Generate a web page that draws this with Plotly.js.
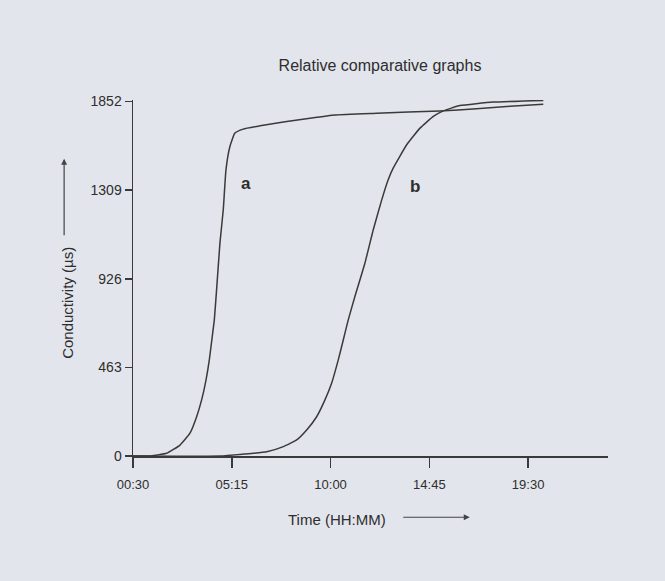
<!DOCTYPE html>
<html>
<head>
<meta charset="utf-8">
<script src="https://cdn.plot.ly/plotly-3.0.1.min.js"></script>
<style>html,body{margin:0;padding:0;background:#e3e5ec;}#chart{width:665px;height:581px;}</style>
</head>
<body>
<div id="chart"></div>
<script>
// Time in hours (00:30 = 0.5), conductivity in µs
const timeA = [0.5, 1.32, 1.64, 2.12, 2.76, 3.24, 3.56, 3.80, 4.01, 4.17, 4.31, 4.41, 4.53, 4.68, 4.84, 4.97, 5.16, 5.40, 5.80, 6.61, 7.81, 9.01, 10.21, 12.22, 15.26, 17.02, 18.63, 20.23];
const condA = [0, 0, 5, 14, 57, 119, 205, 293, 397, 502, 624, 711, 885, 1112, 1286, 1495, 1617, 1687, 1708, 1725, 1746, 1765, 1782, 1791, 1803, 1814, 1827, 1838];
const timeB = [0.5, 4.68, 5.80, 6.93, 7.73, 8.37, 8.85, 9.33, 9.73, 10.05, 10.37, 10.61, 10.85, 11.17, 11.65, 12.05, 12.46, 12.77, 13.01, 13.66, 14.30, 14.94, 15.42, 16.22, 17.82, 20.23];
const condB = [0, 0, 10, 22, 49, 84, 136, 205, 293, 380, 502, 606, 711, 833, 1007, 1181, 1338, 1443, 1504, 1626, 1713, 1774, 1803, 1831, 1849, 1858];
const xTickVals = [0.5, 5.25, 10, 14.75, 19.5];
const xTickText = ['00:30', '05:15', '10:00', '14:45', '19:30'];
const yTickVals = [0, 463, 926, 1389, 1852];
const yTickText = ['0', '463', '926', '1309', '1852'];
const curveLabels = ['a', 'b'];
const labelX = [5.93, 14.06];
const labelY = [1422, 1406];

const font = 'Liberation Sans, Arial, sans-serif';
const ink = '#3a3a3a';
const txt = '#2e2e2e';

const traces = [
  {x: timeA, y: condA, mode: 'lines', line: {color: ink, width: 1.5, shape: 'spline', smoothing: 0.4}, hoverinfo: 'skip'},
  {x: timeB, y: condB, mode: 'lines', line: {color: ink, width: 1.5, shape: 'spline', smoothing: 0.4}, hoverinfo: 'skip'}
];

const annotations = curveLabels.map((t, i) => ({
  x: labelX[i], y: labelY[i], xref: 'x', yref: 'y', text: '<b>' + t + '</b>', showarrow: false,
  xanchor: 'center', yanchor: 'middle',
  font: {family: font, size: 17, color: txt}
}));
annotations.push(
  {xref: 'paper', yref: 'paper', x: 0.429, y: -0.1795, xanchor: 'center', yanchor: 'middle',
   text: 'Time (HH:MM)', showarrow: false, font: {family: font, size: 15, color: txt}},
  {xref: 'paper', yref: 'paper', x: 0.709, y: -0.172, text: '', showarrow: true, ax: -68, ay: 0,
   arrowhead: 2, arrowsize: 1, arrowwidth: 1.2, arrowcolor: '#444'},
  {xref: 'paper', yref: 'paper', x: -0.137, y: 0.43, xanchor: 'center', yanchor: 'middle',
   text: 'Conductivity (µs)', textangle: -90, showarrow: false, font: {family: font, size: 15, color: txt}},
  {xref: 'paper', yref: 'paper', x: -0.145, y: 0.835, text: '', showarrow: true, ax: 0, ay: 78,
   arrowhead: 2, arrowsize: 1, arrowwidth: 1.2, arrowcolor: '#444'}
);

const layout = {
  width: 665, height: 581,
  margin: {l: 133, r: 57, t: 99.5, b: 125},
  paper_bgcolor: '#e3e5ec', plot_bgcolor: 'rgba(0,0,0,0)',
  showlegend: false,
  title: {text: 'Relative comparative graphs', font: {family: font, size: 16, color: txt},
          x: 0.52, xref: 'paper', y: 0.888, yref: 'container', xanchor: 'center', yanchor: 'middle'},
  xaxis: {range: [0.5, 23.34], tickvals: xTickVals, ticktext: xTickText, showgrid: false, zeroline: false,
          showline: true, linecolor: ink, linewidth: 1.5, ticks: 'outside', ticklen: 10, tickwidth: 1.5, tickcolor: ink,
          ticklabelstandoff: 6, tickfont: {family: font, size: 13, color: txt}, fixedrange: true},
  yaxis: {range: [0, 1860], tickvals: yTickVals, ticktext: yTickText, showgrid: false, zeroline: false,
          showline: true, linecolor: ink, linewidth: 1.5, ticks: 'outside', ticklen: 7, tickwidth: 1.5, tickcolor: ink,
          tickfont: {family: font, size: 14, color: txt}, fixedrange: true},
  annotations: annotations
};

Plotly.newPlot('chart', traces, layout, {displayModeBar: false, staticPlot: true});
</script>
</body>
</html>
